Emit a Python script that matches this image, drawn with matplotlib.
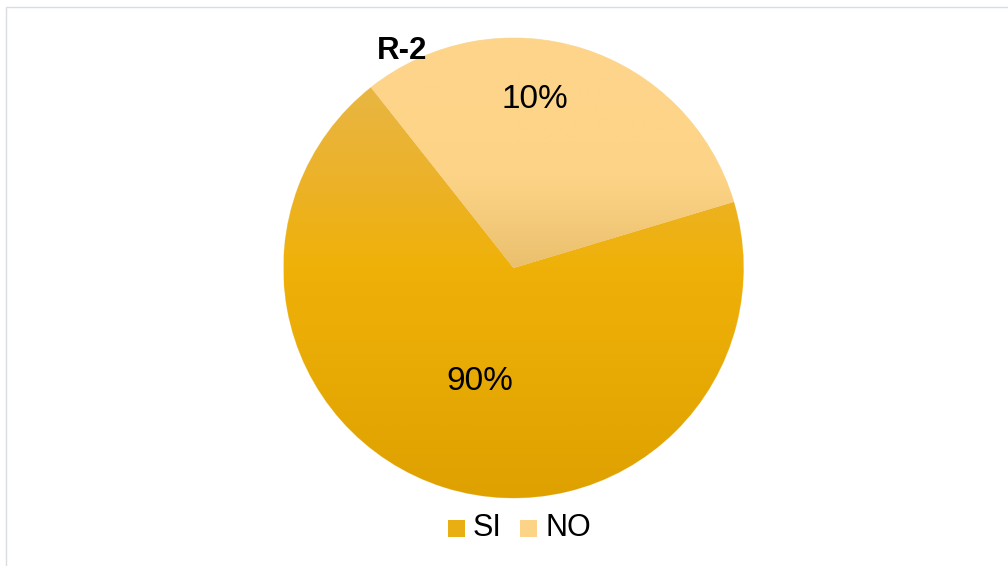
import numpy as np
import matplotlib
matplotlib.use("Agg")
import matplotlib.pyplot as plt
from matplotlib.colors import LinearSegmentedColormap
from matplotlib.patches import Rectangle

# ---- data ----
title = "R-2"
categories = ["SI", "NO"]
values = [69, 31]            # drawn slice sizes
labels = ["90%", "10%"]      # data labels as shown

plt.rcParams['font.family'] = ['Liberation Sans', 'DejaVu Sans']

W, H = 1008, 566
fig = plt.figure(figsize=(W / 100, H / 100), dpi=100)
ax = fig.add_axes([0, 0, 1, 1])

cx, cy, r = 513.5, H - 268, 230

wedges, _ = ax.pie(values, startangle=16.7, counterclock=False,
                   center=(cx, cy), radius=r, frame=True,
                   colors=["#EDB00C", "#FCD387"],
                   wedgeprops=dict(linewidth=0.6, edgecolor="#F7E3B0"))
ax.set_xlim(0, W)
ax.set_ylim(0, H)
ax.set_aspect('equal')
ax.axis('off')

# gradients (top -> bottom)
grad_stops = [
    [(0.0, "#E6B850"), (0.3, "#ECB22A"), (0.5, "#EFB108"), (1.0, "#DFA100")],
    [(0.0, "#FDD58B"), (0.3, "#FDD487"), (0.5, "#EAC06E"), (1.0, "#E0B060")],
]
for w, stops in zip(wedges, grad_stops):
    cmap = LinearSegmentedColormap.from_list("g", stops)
    grad = np.linspace(0, 1, 256).reshape(-1, 1)
    im = ax.imshow(grad, cmap=cmap, extent=(cx - r, cx + r, cy - r, cy + r),
                   origin='upper', aspect='auto', zorder=2, interpolation='bilinear')
    im.set_clip_path(w)
    w.set_zorder(1)
ax.set_xlim(0, W)
ax.set_ylim(0, H)

# data labels
label_pos = [(480, H - 381), (535, H - 99)]
for txt, (x, y) in zip(labels, label_pos):
    ax.text(x, y, txt, ha='center', va='center', fontsize=24, color='black', zorder=5)

# title
ax.text(402, H - 51, title, ha='center', va='center', fontsize=22.5,
        fontweight='bold', color='black', zorder=5)

# legend
leg_colors = ["#E9AE12", "#FCD387"]
leg_x = [448, 520]
for name, col, x0 in zip(categories, leg_colors, leg_x):
    ax.add_patch(Rectangle((x0, H - 537), 17, 17, facecolor=col, edgecolor='none', zorder=5))
    ax.text(x0 + 25, H - 528, name, ha='left', va='center', fontsize=22, color='black', zorder=5)

# chart area border
fig.add_artist(Rectangle((6 / W, -0.1), 1.2, (H - 7) / H + 0.1, transform=fig.transFigure,
                         facecolor='none', edgecolor='#DADCE3', linewidth=1.0))

fig.savefig("out.png", dpi=100)
